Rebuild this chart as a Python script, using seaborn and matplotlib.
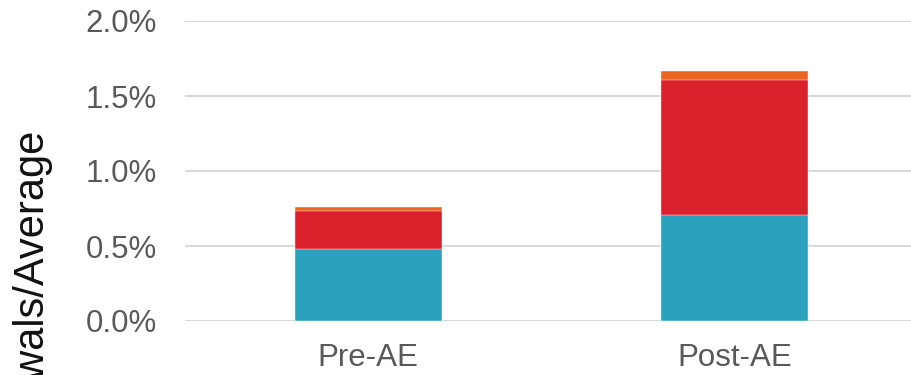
import matplotlib
matplotlib.use("Agg")
import matplotlib.pyplot as plt
import numpy as np
import pandas as pd
import seaborn as sns
from matplotlib.ticker import FuncFormatter, MultipleLocator

# Withdrawal rates (% of average balance), stacked by component
periods = ["Pre-AE", "Post-AE"]
component_a = [0.48, 0.707]   # teal
component_b = [0.253, 0.900]  # red
component_c = [0.027, 0.061]  # orange
colors = ["#2CA1BE", "#DA202A", "#EA6520"]

sns.set_theme(style="white")
plt.rcParams["font.family"] = ["Liberation Sans", "DejaVu Sans"]

fig = plt.figure(figsize=(9.12, 3.75), dpi=100)
ax = fig.add_axes([185 / 912, (375 - 321) / 375, (918 - 185) / 912, 300 / 375])

layers = [component_a, component_b, component_c]
cumulative = np.cumsum(np.array(layers), axis=0)

# draw cumulative totals back to front so each segment shows its own share
for level in range(len(layers) - 1, -1, -1):
    df = pd.DataFrame({"period": periods, "value": cumulative[level]})
    sns.barplot(data=df, x="period", y="value", color=colors[level],
                saturation=1, width=0.4, ax=ax, zorder=3,
                edgecolor="white", linewidth=0.3)

ax.set_ylim(0, 2.0)
ax.set_xlim(-0.5, 1.5)
ax.yaxis.set_major_locator(MultipleLocator(0.5))
ax.yaxis.set_major_formatter(FuncFormatter(lambda v, _: f"{v:.1f}%"))
ax.grid(axis="y", color="#D9D9D9", linewidth=1.5, zorder=0)
ax.grid(axis="x", visible=False)
for s in ax.spines.values():
    s.set_visible(False)
ax.set_xlabel("")
ax.set_ylabel("")
ax.tick_params(axis="y", length=0, pad=20, labelsize=22.5, labelcolor="#595959")
ax.tick_params(axis="x", length=0, pad=16, labelsize=22.5, labelcolor="#595959")

fig.text(0.0356, 1 - 130 / 375, "Withdrawals/Average", rotation=90,
         ha="center", va="top", fontsize=30, color="#111111")

fig.savefig("out.png", dpi=100)
